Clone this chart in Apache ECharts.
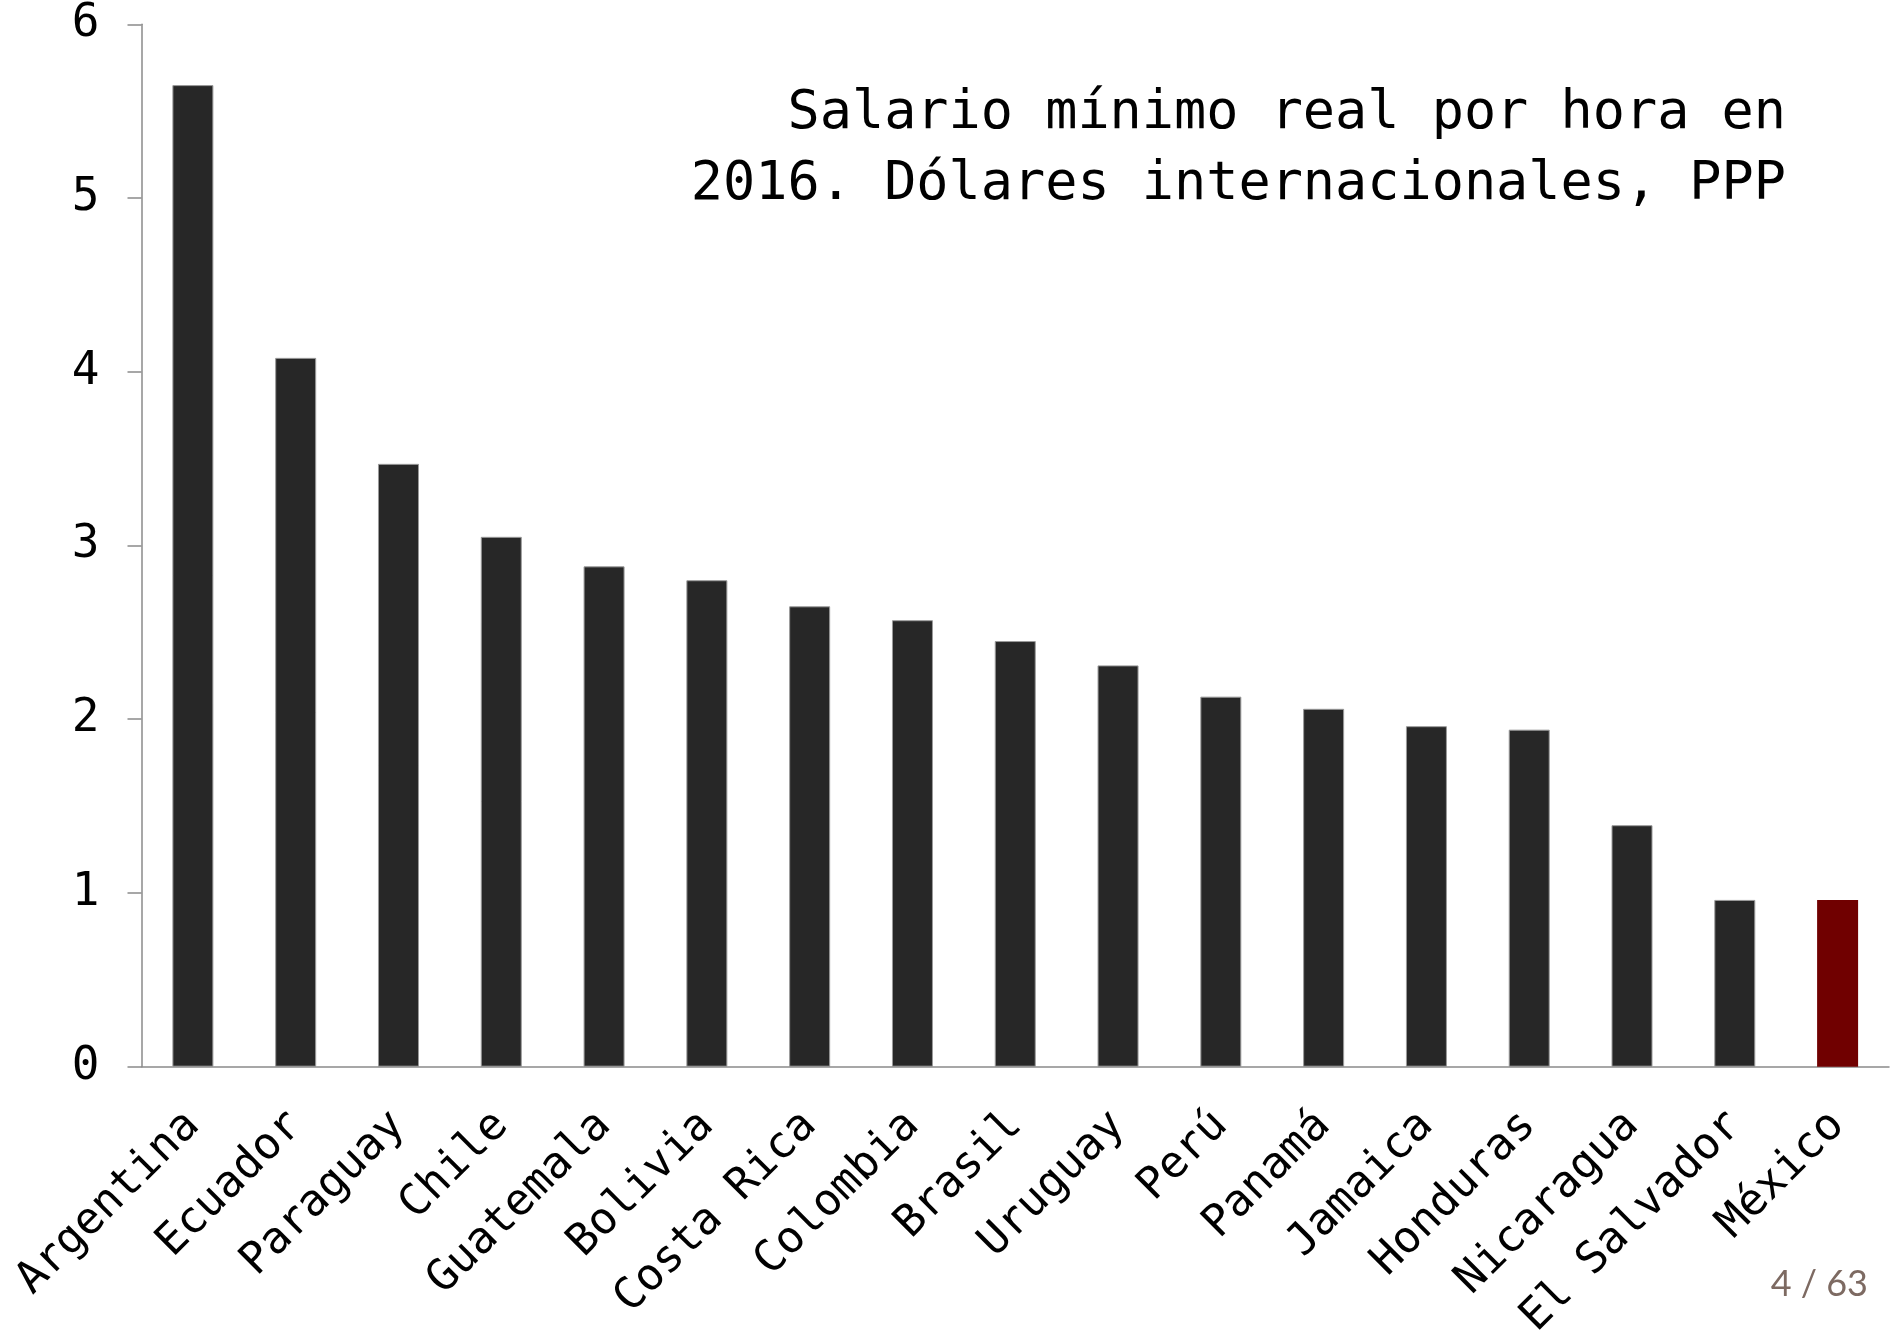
<!DOCTYPE html>
<html>
<head>
<meta charset="utf-8">
<title>Salario mínimo real por hora en 2016</title>
<script src="https://cdn.jsdelivr.net/npm/echarts@6/dist/echarts.min.js"></script>
<style>
    html, body { margin: 0; padding: 0; background: #fff; }
    #chart { width: 1890px; height: 1330px; }
</style>
</head>
<body>
<div id="chart"></div>
<script>
// datos
const paises = ['Argentina', 'Ecuador', 'Paraguay', 'Chile', 'Guatemala', 'Bolivia', 'Costa Rica',
    'Colombia', 'Brasil', 'Uruguay', 'Perú', 'Panamá', 'Jamaica', 'Honduras', 'Nicaragua',
    'El Salvador', 'México'];
const salarios = [5.65, 4.08, 3.47, 3.05, 2.88, 2.80, 2.65, 2.57, 2.45, 2.31, 2.13, 2.06,
    1.96, 1.94, 1.39, 0.96, 0.96];
const resaltado = 'México';
const ticksY = [0, 1, 2, 3, 4, 5, 6];

const titulo = 'Salario mínimo real por hora en\n2016. Dólares internacionales, PPP';
const pagina = '4 / 63';

const mono = '"DejaVu Sans Mono", "Liberation Mono", monospace';
const gris = '#8a8a8a';

const chart = echarts.init(document.getElementById('chart'));

const datosBarras = salarios.map((v, i) => {
    if (paises[i] === resaltado) {
        return { value: v, itemStyle: { color: '#700000', borderWidth: 0 } };
    }
    return v;
});

const option = {
    animation: false,
    backgroundColor: '#ffffff',
    grid: {
        left: 141.5,
        right: 1,
        top: 24.3,
        bottom: 263.3,
        containLabel: false,
        outerBoundsMode: 'none'
    },
    xAxis: {
        type: 'category',
        data: paises,
        axisLine: { show: true, lineStyle: { color: gris, width: 1.5 } },
        axisTick: { show: false },
        axisLabel: {
            interval: 0,
            rotate: 45,
            margin: 52,
            fontFamily: mono,
            fontSize: 44,
            color: '#000'
        },
        splitLine: { show: false }
    },
    yAxis: {
        type: 'value',
        min: ticksY[0],
        max: ticksY[ticksY.length - 1],
        interval: 1,
        axisLine: { show: true, lineStyle: { color: gris, width: 1.5 } },
        axisTick: { show: true, inside: false, length: 14, lineStyle: { color: gris, width: 1.5 } },
        axisLabel: {
            margin: 42,
            fontFamily: mono,
            fontSize: 46,
            color: '#000'
        },
        splitLine: { show: false }
    },
    series: [{
        type: 'bar',
        data: datosBarras,
        barWidth: 41,
        itemStyle: {
            color: '#272727',
            borderColor: '#9a9a9a',
            borderWidth: 1
        }
    }],
    graphic: [
        {
            // título
            type: 'text',
            x: 1786,
            y: 79,
            style: {
                text: titulo,
                align: 'right',
                verticalAlign: 'top',
                fontFamily: mono,
                fontSize: 53.5,
                lineHeight: 71,
                fill: '#000'
            }
        },
        {
            // número de página
            type: 'text',
            right: 22,
            top: 1266,
            style: {
                text: pagina,
                fontFamily: 'Lato, "Noto Sans", sans-serif',
                fontSize: 36,
                fill: '#7d6a62'
            }
        }
    ]
};

chart.setOption(option);

window.addEventListener('resize', function() {
    chart.resize();
});
</script>
</body>
</html>
